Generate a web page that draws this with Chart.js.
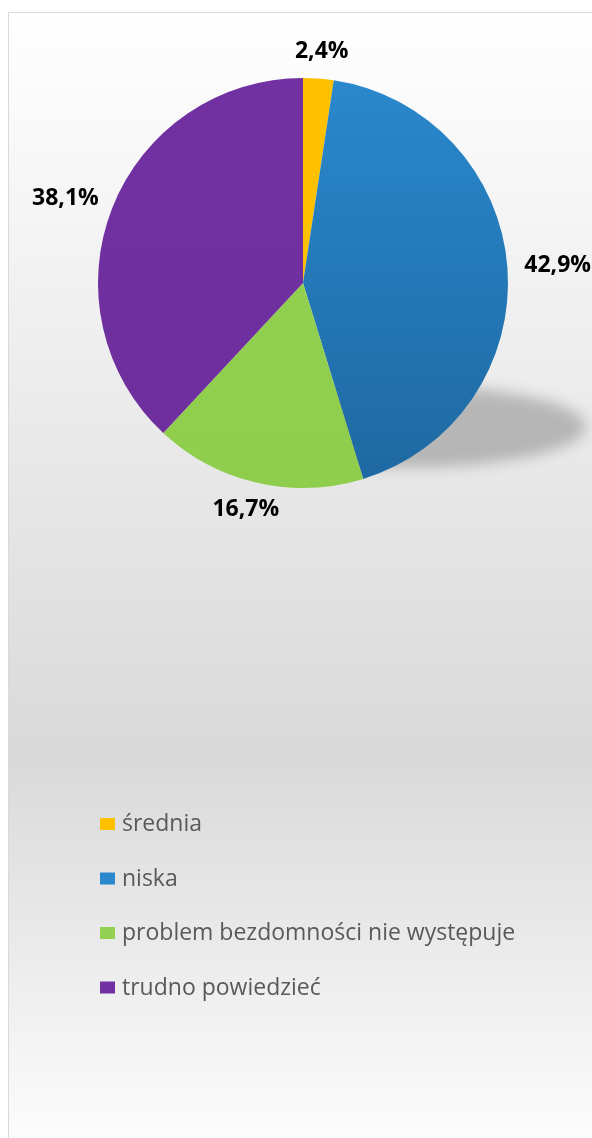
<!DOCTYPE html>
<html>
<head>
<meta charset="utf-8">
<script src="https://cdn.jsdelivr.net/npm/chart.js@4"></script>
<style>
  html, body { margin: 0; padding: 0; background: #ffffff; }
  #chart { display: block; }
</style>
</head>
<body>
<canvas id="chart" width="592" height="1138"></canvas>
<script>
// categories and shares (%)
const labels = ['średnia', 'niska', 'problem bezdomności nie występuje', 'trudno powiedzieć'];
const values = [2.4, 42.9, 16.7, 38.1];
const valueLabels = ['2,4%', '42,9%', '16,7%', '38,1%'];
// top / bottom tones of each slice fill
const colorsTop = ['#FFC000', '#2A88CC', '#94D152', '#7131A2'];
const colorsBottom = ['#FFC000', '#1E68A2', '#8FCD4D', '#6E2F9D'];

const FONT = '"Open Sans", "DejaVu Sans", sans-serif';

function sliceFill(ctx) {
  const chart = ctx.chart;
  const area = chart.chartArea;
  if (!area) return colorsTop[ctx.dataIndex];
  const g = chart.ctx.createLinearGradient(0, area.top, 0, area.bottom);
  g.addColorStop(0, colorsTop[ctx.dataIndex]);
  g.addColorStop(1, colorsBottom[ctx.dataIndex]);
  return g;
}

// frame, gradient background and the soft shadow under the pie
const backdrop = {
  id: 'backdrop',
  beforeDraw(chart) {
    const c = chart.ctx;
    const W = chart.width, H = chart.height;
    c.save();
    const bg = c.createLinearGradient(0, 12, 0, H);
    bg.addColorStop(0, '#FFFFFF');
    bg.addColorStop(0.66, '#D9D9D9');
    bg.addColorStop(1, '#FCFCFC');
    c.fillStyle = bg;
    c.fillRect(8, 12, W, H);
    c.strokeStyle = '#D9D9D9';
    c.lineWidth = 1;
    c.beginPath();
    c.moveTo(W + 1, 12.5);
    c.lineTo(8.5, 12.5);
    c.lineTo(8.5, H + 1);
    c.stroke();
    c.restore();
  },
  beforeDatasetsDraw(chart) {
    const arc = chart.getDatasetMeta(0).data[0];
    if (!arc) return;
    const r = arc.outerRadius;
    const c = chart.ctx;
    c.save();
    c.filter = 'blur(7px)';
    c.fillStyle = 'rgba(0,0,0,0.22)';
    c.beginPath();
    c.ellipse(arc.x + r * 0.5, arc.y + r * 0.7, r * 0.88, r * 0.2, 0, 0, Math.PI * 2);
    c.fill();
    c.restore();
  }
};

// percentage labels outside the slices, plus the left-aligned legend
const annotate = {
  id: 'annotate',
  afterDraw(chart) {
    const c = chart.ctx;
    const meta = chart.getDatasetMeta(0);
    c.save();
    c.font = 'bold 23px ' + FONT;
    c.fillStyle = '#000000';
    c.textAlign = 'center';
    c.textBaseline = 'middle';
    meta.data.forEach((arc, i) => {
      const a = (arc.startAngle + arc.endAngle) / 2;
      const dx = Math.cos(a), dy = Math.sin(a);
      const w = c.measureText(valueLabels[i]).width;
      const h = 20;
      const d = arc.outerRadius + 17;
      const x = arc.x + dx * d + dx * w / 2;
      const y = arc.y + dy * d + dy * h / 2;
      c.fillText(valueLabels[i], x, y);
    });

    c.font = '23px ' + FONT;
    c.textAlign = 'left';
    c.textBaseline = 'alphabetic';
    labels.forEach((lab, i) => {
      const base = 831 + i * 54.5;
      c.fillStyle = colorsTop[i];
      c.fillRect(100, base - 13, 15, 12);
      c.fillStyle = '#595959';
      c.fillText(lab, 122, base);
    });
    c.restore();
  }
};

new Chart(document.getElementById('chart'), {
  type: 'pie',
  data: {
    labels: labels,
    datasets: [{
      data: values,
      backgroundColor: sliceFill,
      borderWidth: 0
    }]
  },
  options: {
    responsive: false,
    animation: false,
    devicePixelRatio: 1,
    layout: { padding: { left: 98, right: 84, top: 78, bottom: 650 } },
    plugins: {
      legend: { display: false },
      tooltip: { enabled: false }
    }
  },
  plugins: [backdrop, annotate]
});
</script>
</body>
</html>
